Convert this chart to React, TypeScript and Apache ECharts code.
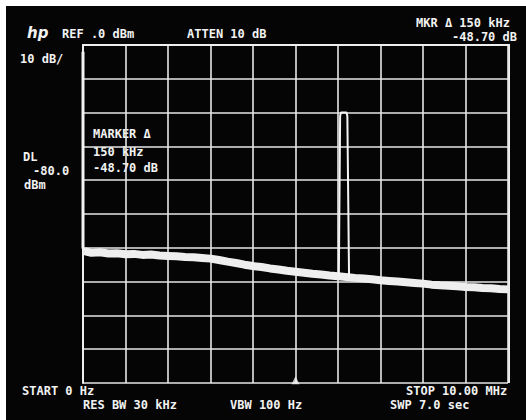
import React, { useEffect, useRef } from "react";
import * as echarts from "echarts";

// Frequency axis (MHz) and amplitude axis (dBm)
const freqMin = 0;
const freqMax = 10;
const ampMin = -100;
const ampMax = 0;

// Noise floor trace (MHz, dBm)
const noiseFreq = [0.03, 0.2, 0.4, 0.6, 0.8, 1.0, 1.2, 1.4, 1.6, 1.8, 2.0, 2.2, 2.4, 2.6, 2.8, 3.0, 3.2, 3.4, 3.6, 3.8, 4.0, 4.2, 4.4, 4.6, 4.8, 5.0, 5.2, 5.4, 5.6, 5.8, 6.0, 6.4, 6.6, 6.8, 7.0, 7.2, 7.4, 7.6, 7.8, 8.0, 8.2, 8.4, 8.6, 8.8, 9.0, 9.2, 9.4, 9.6, 9.8, 10.0];
const noiseDb = [-61.0, -61.5, -61.3, -61.7, -61.6, -61.9, -61.8, -62.1, -62.0, -62.3, -62.4, -62.5, -62.7, -62.8, -63.0, -63.2, -63.6, -64.1, -64.5, -65.0, -65.4, -65.7, -66.1, -66.4, -66.8, -67.1, -67.4, -67.7, -67.9, -68.2, -68.4, -68.9, -69.1, -69.3, -69.6, -69.8, -70.0, -70.2, -70.4, -70.6, -70.9, -71.1, -71.2, -71.4, -71.6, -71.7, -71.9, -72.0, -72.2, -72.3];

// LO feedthrough at 0 Hz
const loFreq = [0.0, 0.0, 0.03];
const loDb = [-2, -60, -61];

// Signal spike
const spikeFreq = [6.02, 6.05, 6.07, 6.2, 6.22, 6.26];
const spikeDb = [-68.3, -21, -20, -20, -21, -68.6];

// Marker position
const markerFreq = [5.0];
const markerDb = [-99.2];

const headerTexts = [
  { t: "REF .0 dBm", x: 62, y: 34 },
  { t: "ATTEN 10 dB", x: 187, y: 34 },
  { t: "MKR \u0394 150 kHz", x: 416, y: 23 },
  { t: "-48.70 dB", x: 452, y: 37 },
  { t: "10 dB/", x: 20, y: 59 },
  { t: "MARKER \u0394", x: 93, y: 134 },
  { t: "150 kHz", x: 93, y: 152 },
  { t: "-48.70 dB", x: 93, y: 168 },
  { t: "DL", x: 23, y: 157 },
  { t: "-80.0", x: 33, y: 171 },
  { t: "dBm", x: 24, y: 185 },
  { t: "START 0 Hz", x: 22, y: 391 },
  { t: "RES BW 30 kHz", x: 83, y: 405 },
  { t: "VBW 100 Hz", x: 230, y: 405 },
  { t: "STOP 10.00 MHz", x: 406, y: 391 },
  { t: "SWP 7.0 sec", x: 390, y: 405 },
];

const zip = (a: number[], b: number[]) => a.map((v, i) => [v, b[i]]);

export default function App() {
  const ref = useRef<HTMLDivElement>(null);
  useEffect(() => {
    if (!ref.current) return;
    const chart = echarts.init(ref.current, null, { renderer: "svg" });
    const font = "DejaVu Sans Mono";
    chart.setOption({
      animation: false,
      backgroundColor: "#050505",
      grid: { left: 83, right: 18, top: 45, bottom: 37 },
      xAxis: {
        type: "value",
        min: freqMin,
        max: freqMax,
        interval: 1,
        axisLabel: { show: false },
        axisTick: { show: false },
        axisLine: { show: true, lineStyle: { color: "#eeeeee", width: 2 } },
        splitLine: { show: true, lineStyle: { color: "#e6e6e6", width: 1.6 } },
      },
      yAxis: {
        type: "value",
        min: ampMin,
        max: ampMax,
        interval: 10,
        axisLabel: { show: false },
        axisTick: { show: false },
        axisLine: { show: true, lineStyle: { color: "#eeeeee", width: 2 } },
        splitLine: { show: true, lineStyle: { color: "#e6e6e6", width: 1.6 } },
      },
      graphic: [
        { type: "rect", shape: { x: 0, y: 0, width: 526, height: 6 }, style: { fill: "#ffffff" }, silent: true },
        { type: "rect", shape: { x: 0, y: 0, width: 6, height: 420 }, style: { fill: "#ffffff" }, silent: true },
        { type: "rect", shape: { x: 508, y: 45, width: 2, height: 338 }, style: { fill: "#eeeeee" }, silent: true },
        { type: "rect", shape: { x: 83, y: 44, width: 427, height: 2 }, style: { fill: "#eeeeee" }, silent: true },
        {
          type: "text",
          left: 27,
          top: 25,
          style: { text: "hp", fill: "#f2f2f2", font: "italic bold 15px 'DejaVu Sans'" },
        },
        ...headerTexts.map((h) => ({
          type: "text",
          x: h.x,
          y: h.y,
          style: {
            text: h.t,
            fill: "#f2f2f2",
            font: `bold 12px '${font}'`,
            textVerticalAlign: "middle",
          },
        })),
      ],
      series: [
        {
          type: "line",
          data: zip(noiseFreq, noiseDb),
          showSymbol: false,
          lineStyle: { color: "#eeeeee", width: 8 },
          z: 3,
        },
        {
          type: "line",
          data: zip(loFreq, loDb),
          showSymbol: false,
          lineStyle: { color: "#f4f4f4", width: 3 },
          z: 4,
        },
        {
          type: "line",
          data: zip(spikeFreq, spikeDb),
          showSymbol: false,
          lineStyle: { color: "#f4f4f4", width: 2 },
          z: 4,
        },
        {
          type: "scatter",
          data: zip(markerFreq, markerDb),
          symbol: "triangle",
          symbolSize: [8, 8],
          itemStyle: { color: "#f4f4f4" },
          z: 5,
        },
      ],
    });
    return () => chart.dispose();
  }, []);
  return (
    <div
      ref={ref}
      style={{ position: "fixed", left: 0, top: 0, width: 526, height: 420 }}
    />
  );
}
